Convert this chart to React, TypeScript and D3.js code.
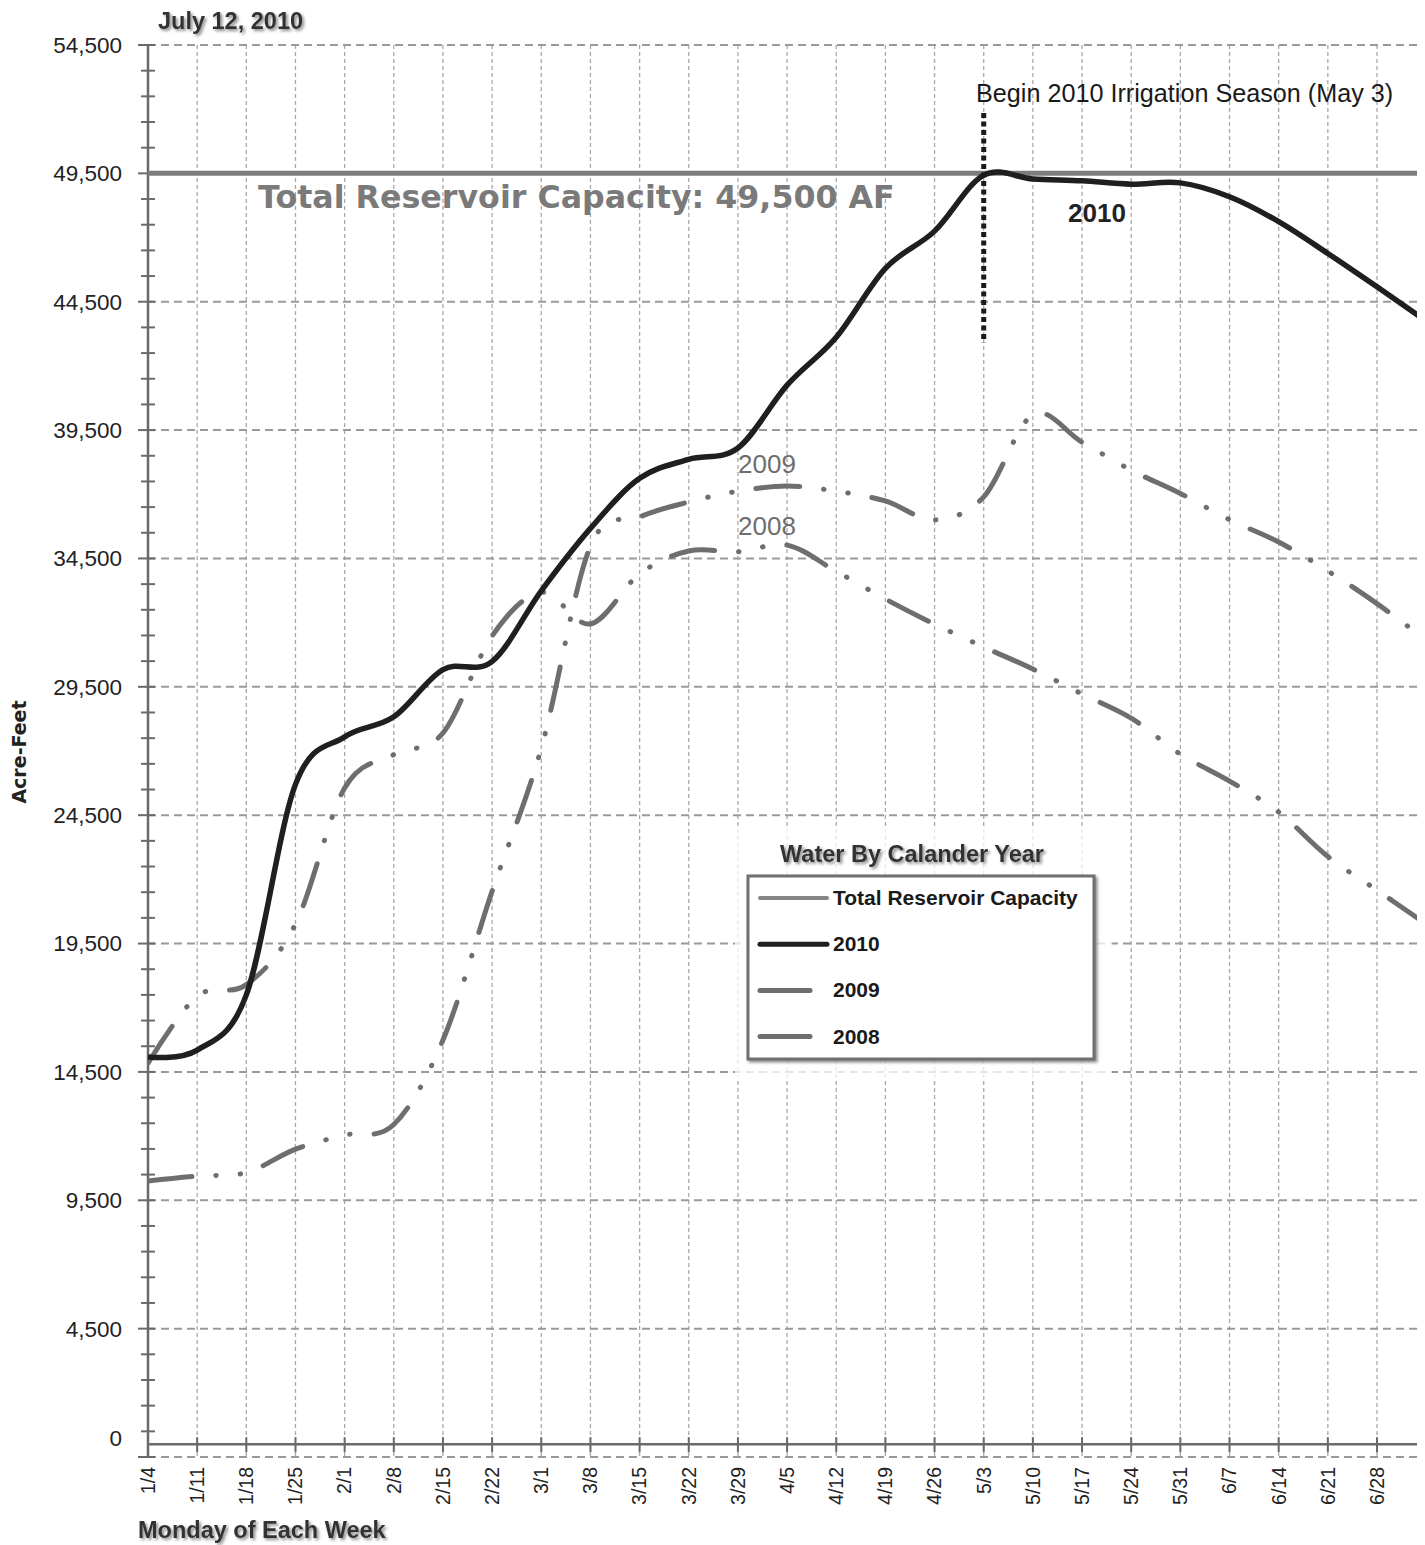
import React, { useEffect, useRef } from 'react'
import * as d3 from 'd3'

// Monday of each week. The last one only carries the curves past the right edge.
const weeks = [
    '1/4', '1/11', '1/18', '1/25', '2/1', '2/8', '2/15', '2/22', '3/1', '3/8', '3/15', '3/22', '3/29',
    '4/5', '4/12', '4/19', '4/26', '5/3', '5/10', '5/17', '5/24', '5/31', '6/7', '6/14', '6/21', '6/28', '7/5',
]
const labelledWeeks = 26

// acre-feet stored
const water2010 = [
    15080, 15350, 17500, 25700, 27550, 28330, 30170, 30490, 33240, 35670, 37620, 38360, 38800,
    41250, 43120, 45800, 47250, 49430, 49280, 49210, 49080, 49130, 48590, 47620, 46380, 45080, 43750,
]
const water2009 = [
    10250, 10440, 10580, 11490, 12040, 12450, 15740, 21540, 27110, 34980, 36110, 36700, 37120,
    37320, 37120, 36740, 36000, 36900, 40100, 39030, 37940, 37030, 36010, 35140, 34010, 32740, 31320,
]
const water2008 = [
    14840, 17450, 17900, 20260, 25560, 26860, 27700, 31480, 33180, 31950, 33900, 34790, 34760,
    35020, 34000, 32920, 31940, 31050, 30190, 29220, 28280, 26880, 25830, 24620, 22890, 21580, 20260,
]

const capacity = 49500
const yLabelTicks = [0, 4500, 9500, 14500, 19500, 24500, 29500, 34500, 39500, 44500, 49500, 54500]
const yGridTicks = [-500, 4500, 9500, 14500, 19500, 24500, 29500, 34500, 39500, 44500, 49500, 54500]
const irrigationStart = '5/3'
const irrigationMarker = [42900, 51850]

const width = 1425
const height = 1545
const plot = { left: 148, right: 1417, top: 45, bottom: 1457 }

const sans = "'Liberation Sans', Arial, sans-serif"
const verdana = "'DejaVu Sans', Verdana, sans-serif"
const gray = '#6e6e6e'

export default function App() {
    const svgRef = useRef<SVGSVGElement | null>(null)

    useEffect(() => {
        const svg = d3.select(svgRef.current).attr('width', width).attr('height', height)
        svg.selectAll('*').remove()

        const x = d3.scaleLinear().domain([0, 25]).range([148, 1377])
        const y = d3.scaleLinear().domain([-500, 54500]).range([plot.bottom, plot.top])

        const defs = svg.append('defs')
        defs.append('clipPath')
            .attr('id', 'plotClip')
            .append('rect')
            .attr('x', plot.left)
            .attr('y', 0)
            .attr('width', plot.right - plot.left)
            .attr('height', plot.bottom)
        const shadow = defs
            .append('filter')
            .attr('id', 'shadow')
            .attr('x', '-10%')
            .attr('y', '-40%')
            .attr('width', '130%')
            .attr('height', '200%')
        shadow
            .append('feDropShadow')
            .attr('dx', 2)
            .attr('dy', 2)
            .attr('stdDeviation', 1.6)
            .attr('flood-color', '#777')
            .attr('flood-opacity', 0.85)

        svg.append('rect').attr('width', width).attr('height', height).attr('fill', 'white')

        // grid: dashed horizontals at the labelled values, fine dashes at each Monday
        svg.append('g')
            .selectAll('line')
            .data(d3.range(1, labelledWeeks))
            .join('line')
            .attr('x1', (d) => x(d))
            .attr('x2', (d) => x(d))
            .attr('y1', plot.top)
            .attr('y2', plot.bottom)
            .attr('stroke', '#a8a8a8')
            .attr('stroke-width', 1.3)
            .attr('stroke-dasharray', '4 3')

        svg.append('g')
            .selectAll('line')
            .data(yGridTicks)
            .join('line')
            .attr('x1', plot.left)
            .attr('x2', plot.right)
            .attr('y1', (d) => y(d))
            .attr('y2', (d) => y(d))
            .attr('stroke', '#9a9a9a')
            .attr('stroke-width', 2)
            .attr('stroke-dasharray', '8 5')

        // y axis with minor ticks every 1,000
        const axisColor = '#6a6a6a'
        svg.append('line')
            .attr('x1', plot.left)
            .attr('x2', plot.left)
            .attr('y1', plot.top)
            .attr('y2', plot.bottom)
            .attr('stroke', axisColor)
            .attr('stroke-width', 2.5)
        svg.append('g')
            .selectAll('line')
            .data(d3.range(-500, 54501, 1000))
            .join('line')
            .attr('x1', (d) => ((d + 500) % 5000 === 0 ? 138 : 141))
            .attr('x2', 155)
            .attr('y1', (d) => y(d))
            .attr('y2', (d) => y(d))
            .attr('stroke', axisColor)
            .attr('stroke-width', 2)
        svg.append('g')
            .selectAll('text')
            .data(yLabelTicks)
            .join('text')
            .attr('x', 122)
            .attr('y', (d) => (d === 0 ? y(d) - 6 : y(d)))
            .attr('dy', '0.35em')
            .attr('text-anchor', 'end')
            .attr('font-family', sans)
            .attr('font-size', 22.5)
            .attr('fill', '#222')
            .text((d) => d3.format(',')(d))

        // x axis at zero
        svg.append('line')
            .attr('x1', plot.left)
            .attr('x2', plot.right)
            .attr('y1', y(0))
            .attr('y2', y(0))
            .attr('stroke', axisColor)
            .attr('stroke-width', 2.5)
        svg.append('g')
            .selectAll('line')
            .data(d3.range(labelledWeeks))
            .join('line')
            .attr('x1', (d) => x(d))
            .attr('x2', (d) => x(d))
            .attr('y1', y(0) - 7)
            .attr('y2', y(0) + 8)
            .attr('stroke', axisColor)
            .attr('stroke-width', 2)
        svg.append('g')
            .selectAll('text')
            .data(weeks.slice(0, labelledWeeks))
            .join('text')
            .attr('transform', (_, i) => `translate(${x(i)},1467) rotate(-90)`)
            .attr('text-anchor', 'end')
            .attr('dy', '0.35em')
            .attr('font-family', sans)
            .attr('font-size', 19.5)
            .attr('fill', '#222')
            .text((d) => d)

        const plotArea = svg.append('g').attr('clip-path', 'url(#plotClip)')

        // capacity line
        plotArea
            .append('line')
            .attr('x1', plot.left)
            .attr('x2', plot.right)
            .attr('y1', y(capacity))
            .attr('y2', y(capacity))
            .attr('stroke', '#7c7c7c')
            .attr('stroke-width', 5)

        // Excel style smoothed lines
        const lineGen = d3
            .line<number>()
            .x((_, i) => x(i))
            .y((d) => y(d))
            .curve(d3.curveCardinal.tension(0))

        const dashDotDot = '44 24 0.5 24 0.5 24'
        ;[water2008, water2009].forEach((series) => {
            plotArea
                .append('path')
                .attr('d', lineGen(series))
                .attr('fill', 'none')
                .attr('stroke', gray)
                .attr('stroke-width', 5)
                .attr('stroke-linecap', 'round')
                .attr('stroke-dasharray', dashDotDot)
        })
        plotArea
            .append('path')
            .attr('d', lineGen(water2010))
            .attr('fill', 'none')
            .attr('stroke', '#1f1f1f')
            .attr('stroke-width', 5.5)
            .attr('stroke-linejoin', 'round')

        // irrigation season marker
        const startX = x(weeks.indexOf(irrigationStart))
        svg.append('line')
            .attr('x1', startX)
            .attr('x2', startX)
            .attr('y1', y(irrigationMarker[1]))
            .attr('y2', y(irrigationMarker[0]))
            .attr('stroke', '#1a1a1a')
            .attr('stroke-width', 5)
            .attr('stroke-dasharray', '5 3.5')

        const addText = (
            txt: string,
            tx: number,
            ty: number,
            size: number,
            opts: { family?: string; weight?: string; fill?: string; anchor?: string; shadow?: boolean } = {}
        ) => {
            const t = svg
                .append('text')
                .attr('x', tx)
                .attr('y', ty)
                .attr('font-family', opts.family ?? sans)
                .attr('font-size', size)
                .attr('font-weight', opts.weight ?? 'normal')
                .attr('fill', opts.fill ?? '#222')
                .attr('text-anchor', opts.anchor ?? 'start')
                .text(txt)
            if (opts.shadow) t.attr('filter', 'url(#shadow)')
            return t
        }

        addText('Total Reservoir Capacity: 49,500 AF', 258, 208, 31.7, {
            family: verdana,
            weight: 'bold',
            fill: '#7a7a7a',
        })
        addText('Begin 2010 Irrigation Season (May 3)', 976, 102, 25.2, { fill: '#1a1a1a' })
        addText('2010', 1097, 222, 26, { weight: 'bold', fill: '#222', anchor: 'middle' })
        addText('2009', 767, 473, 26, { fill: gray, anchor: 'middle' })
        addText('2008', 767, 535, 26, { fill: gray, anchor: 'middle' })

        addText('July 12, 2010', 158, 29, 23.5, { weight: 'bold', fill: '#333', shadow: true })
        addText('Monday of Each Week', 138, 1538, 23.5, { weight: 'bold', fill: '#333', shadow: true })
        svg.append('text')
            .attr('transform', 'translate(26,752) rotate(-90)')
            .attr('text-anchor', 'middle')
            .attr('font-family', verdana)
            .attr('font-weight', 'bold')
            .attr('font-size', 19)
            .attr('fill', '#222')
            .text('Acre-Feet')

        // legend
        svg.append('rect')
            .attr('x', 735)
            .attr('y', 828)
            .attr('width', 377)
            .attr('height', 250)
            .attr('fill', 'white')
            .attr('opacity', 0.75)
        addText('Water By Calander Year', 912, 862, 23.5, {
            weight: 'bold',
            fill: '#333',
            anchor: 'middle',
            shadow: true,
        })
        svg.append('rect')
            .attr('x', 748)
            .attr('y', 876)
            .attr('width', 346)
            .attr('height', 183)
            .attr('fill', 'white')
            .attr('stroke', '#6f6f6f')
            .attr('stroke-width', 3)
            .attr('filter', 'url(#shadow)')

        const legendItems = [
            { label: 'Total Reservoir Capacity', color: '#858585', width: 4, len: 67 },
            { label: '2010', color: '#1f1f1f', width: 5, len: 67 },
            { label: '2009', color: gray, width: 5, len: 50 },
            { label: '2008', color: gray, width: 5, len: 50 },
        ]
        const rows = svg
            .append('g')
            .selectAll('g')
            .data(legendItems)
            .join('g')
            .attr('transform', (_, i) => `translate(760,${898 + i * 46.2})`)
        rows.append('line')
            .attr('x1', 0)
            .attr('x2', (d) => d.len)
            .attr('stroke', (d) => d.color)
            .attr('stroke-width', (d) => d.width)
            .attr('stroke-linecap', 'round')
        rows.append('text')
            .attr('x', 73)
            .attr('y', 7)
            .attr('font-family', sans)
            .attr('font-size', 21)
            .attr('font-weight', 'bold')
            .attr('fill', '#1a1a1a')
            .text((d) => d.label)
    }, [])

    return <svg ref={svgRef} width={width} height={height} style={{ position: 'absolute', left: 0, top: 0 }} />
}
